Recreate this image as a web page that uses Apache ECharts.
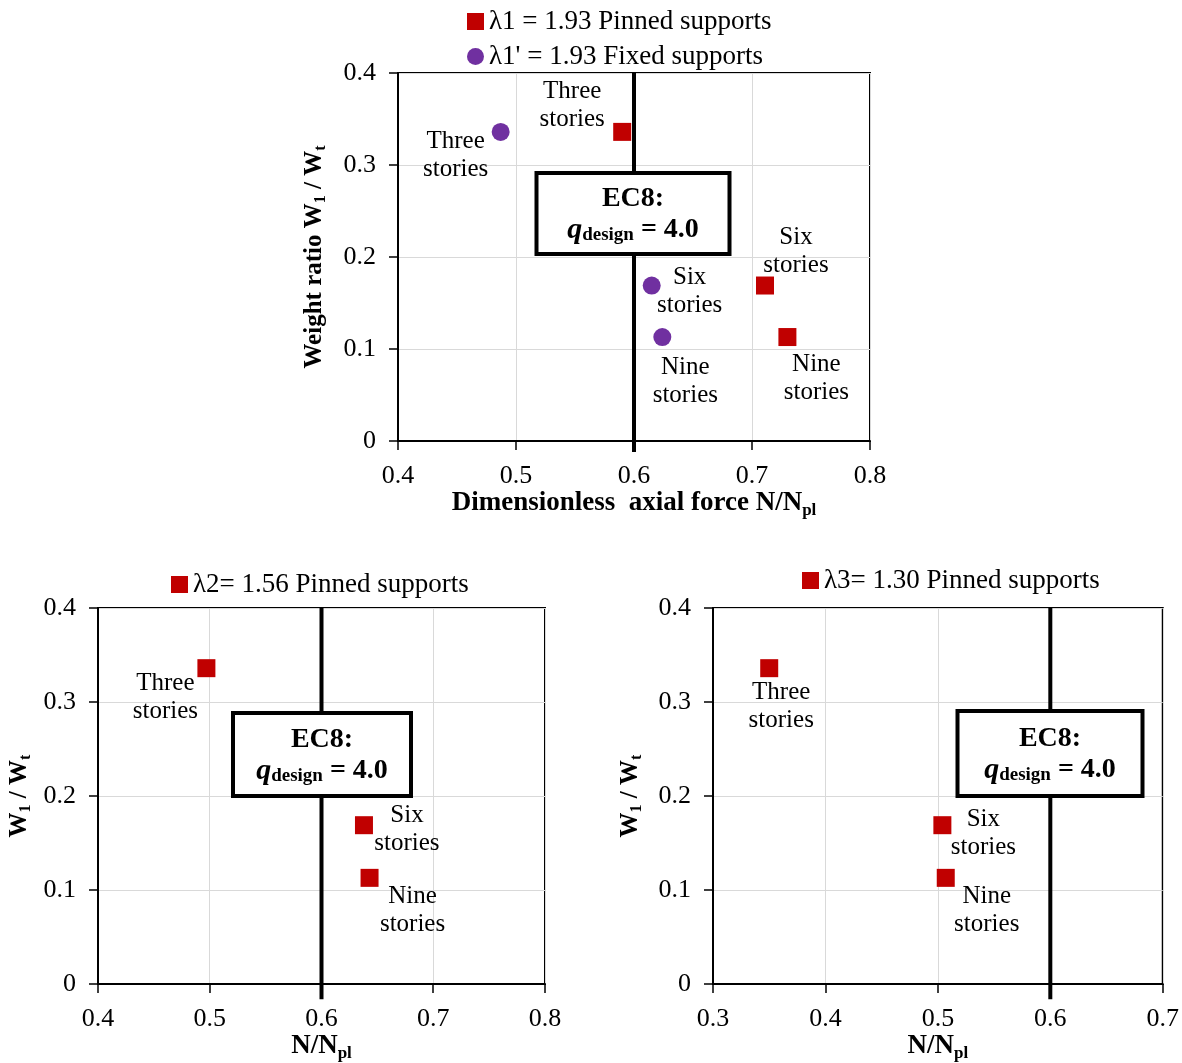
<!DOCTYPE html>
<html>
<head>
<meta charset="utf-8">
<script src="https://cdn.jsdelivr.net/npm/echarts@6/dist/echarts.min.js"></script>
<style>
  html, body { margin: 0; padding: 0; background: #fff; }
  #main { width: 1182px; height: 1063px; }
</style>
</head>
<body>
<div id="main"></div>
<script>
// values
const storyNames = ['Three\nstories', 'Six\nstories', 'Nine\nstories'];
const weightRatio = [0.336, 0.169, 0.113];
const lambda1Pinned = [0.590, 0.711, 0.730];
const lambda1Fixed = [0.487, 0.615, 0.624];
const lambda2Pinned = [0.497, 0.638, 0.643];
const lambda3Pinned = [0.350, 0.504, 0.507];
const ec8Limit = 0.6;
const xRanges = [[0.4, 0.8], [0.4, 0.8], [0.3, 0.7]];
const yRange = [0, 0.4];
const legendNames = ['λ1 = 1.93 Pinned supports', "λ1' = 1.93 Fixed supports", 'λ2= 1.56 Pinned supports', 'λ3= 1.30 Pinned supports'];

const FONT = '"Liberation Serif", "Times New Roman", serif';
const RED = '#C00000';
const PURPLE = '#7030A0';

// label offsets (px) for each point's story label
const offsets = {
  l1p: [[-50, -26], [31, -34], [29, 41]],
  l1f: [[-45, 24], [38, 6], [23, 44]],
  l2p: [[-41, 29], [43, 4], [43, 33]],
  l3p: [[12, 38], [41, 8], [41, 33]]
};

function pts(xs, offs) {
  return xs.map((x, i) => ({
    value: [x, weightRatio[i]],
    name: storyNames[i],
    label: { offset: offs[i] }
  }));
}

const chart = echarts.init(document.getElementById('main'));

const grids = [
  { left: 398, top: 73, width: 472, height: 368 },
  { left: 98, top: 608, width: 447, height: 377 },
  { left: 713, top: 608, width: 450, height: 377 }
].map(g => Object.assign(g, { show: true, borderColor: '#000', borderWidth: 2, containLabel: false }));

const xNames = [
  '{b|Dimensionless  axial force N/N}{s|pl}',
  '{b|N/N}{s|pl}',
  '{b|N/N}{s|pl}'
];
const yNames = [
  '{c|Weight ratio W}{t|1}{c| / W}{t|t}',
  '{c|W}{t|1}{c| / W}{t|t}',
  '{c|W}{t|1}{c| / W}{t|t}'
];
const yGaps = [69, 64, 68];

const nameRich = {
  b: { fontFamily: FONT, fontSize: 27, fontWeight: 'bold', color: '#000' },
  s: { fontFamily: FONT, fontSize: 17, fontWeight: 'bold', color: '#000', padding: [14, 0, 0, 0] },
  c: { fontFamily: FONT, fontSize: 25, fontWeight: 'bold', color: '#000' },
  t: { fontFamily: FONT, fontSize: 16, fontWeight: 'bold', color: '#000', padding: [12, 0, 0, 0] }
};

const xAxes = xRanges.map((r, i) => ({
  type: 'value', gridIndex: i, min: r[0], max: r[1], interval: 0.1,
  name: xNames[i], nameLocation: 'middle', nameGap: 44,
  nameTextStyle: { rich: nameRich },
  axisLine: { show: true, onZero: false, lineStyle: { color: '#000', width: 2 } },
  axisTick: { show: true, length: 9, lineStyle: { color: '#000', width: 1.5 } },
  axisLabel: { margin: 22, fontFamily: FONT, fontSize: 26, color: '#000' },
  splitLine: { show: true, lineStyle: { color: '#d9d9d9', width: 1 } }
}));

const yAxes = [0, 1, 2].map(i => ({
  type: 'value', gridIndex: i, min: yRange[0], max: yRange[1], interval: 0.1,
  name: yNames[i], nameLocation: 'middle', nameGap: yGaps[i], nameRotate: 90,
  nameTextStyle: { rich: nameRich },
  axisLine: { show: true, onZero: false, lineStyle: { color: '#000', width: 2 } },
  axisTick: { show: true, length: 9, lineStyle: { color: '#000', width: 1.5 } },
  axisLabel: { margin: 22, fontFamily: FONT, fontSize: 26, color: '#000' },
  splitLine: { show: true, lineStyle: { color: '#d9d9d9', width: 1 } }
}));

const pointLabel = {
  show: true, position: 'inside', formatter: p => p.name,
  fontFamily: FONT, fontSize: 25, lineHeight: 28, color: '#000'
};

function scatter(name, idx, xs, offs, symbol, color, size) {
  return {
    name: name, type: 'scatter', xAxisIndex: idx, yAxisIndex: idx,
    symbol: symbol, symbolSize: size, itemStyle: { color: color, opacity: 1 },
    label: pointLabel, data: pts(xs, offs), z: 5
  };
}

function limitLine(idx, low) {
  return {
    name: 'EC8 limit ' + idx, type: 'line', xAxisIndex: idx, yAxisIndex: idx,
    data: [[ec8Limit, yRange[1]], [ec8Limit, low]], clip: false,
    symbol: 'none', lineStyle: { color: '#000', width: 4 }, z: 3, silent: true
  };
}

const boxes = [
  { cx: 633, top: 173, w: 193, h: 81 },
  { cx: 322, top: 713, w: 178, h: 83 },
  { cx: 1050, top: 711, w: 185, h: 85 }
];
const graphics = [];
boxes.forEach(b => {
  graphics.push({
    type: 'rect', z: 100,
    shape: { x: b.cx - b.w / 2, y: b.top, width: b.w, height: b.h },
    style: { fill: '#fff', stroke: '#000', lineWidth: 4 }
  });
  graphics.push({
    type: 'text', z: 101, x: b.cx, y: b.top + b.h / 2 + 1,
    style: {
      text: '{e|EC8:}\n{q|q}{d|design}{e| = 4.0}',
      align: 'center', verticalAlign: 'middle',
      rich: {
        e: { fontFamily: FONT, fontSize: 28, fontWeight: 'bold', color: '#000', lineHeight: 31 },
        q: { fontFamily: FONT, fontSize: 30, fontWeight: 'bold', fontStyle: 'italic', color: '#000', lineHeight: 31 },
        d: { fontFamily: FONT, fontSize: 19, fontWeight: 'bold', color: '#000', lineHeight: 31, padding: [10, 0, 0, 0] }
      }
    }
  });
});

const legendText = { fontFamily: FONT, fontSize: 27, lineHeight: 26, color: '#000' };

chart.setOption({
  animation: false,
  backgroundColor: '#fff',
  grid: grids,
  xAxis: xAxes,
  yAxis: yAxes,
  legend: [
    { orient: 'vertical', left: 462, top: 3, itemGap: 8, itemWidth: 17, itemHeight: 17,
      textStyle: legendText,
      data: [{ name: legendNames[0], icon: 'rect' }, { name: legendNames[1], icon: 'circle' }] },
    { left: 166, top: 566, itemWidth: 17, itemHeight: 17, textStyle: legendText,
      data: [{ name: legendNames[2], icon: 'rect' }] },
    { left: 797, top: 562, itemWidth: 17, itemHeight: 17, textStyle: legendText,
      data: [{ name: legendNames[3], icon: 'rect' }] }
  ],
  series: [
    limitLine(0, -0.012),
    limitLine(1, -0.016),
    limitLine(2, -0.016),
    scatter(legendNames[0], 0, lambda1Pinned, offsets.l1p, 'rect', RED, 18),
    scatter(legendNames[1], 0, lambda1Fixed, offsets.l1f, 'circle', PURPLE, 18),
    scatter(legendNames[2], 1, lambda2Pinned, offsets.l2p, 'rect', RED, 18),
    scatter(legendNames[3], 2, lambda3Pinned, offsets.l3p, 'rect', RED, 18)
  ],
  graphic: graphics
});
</script>
</body>
</html>
